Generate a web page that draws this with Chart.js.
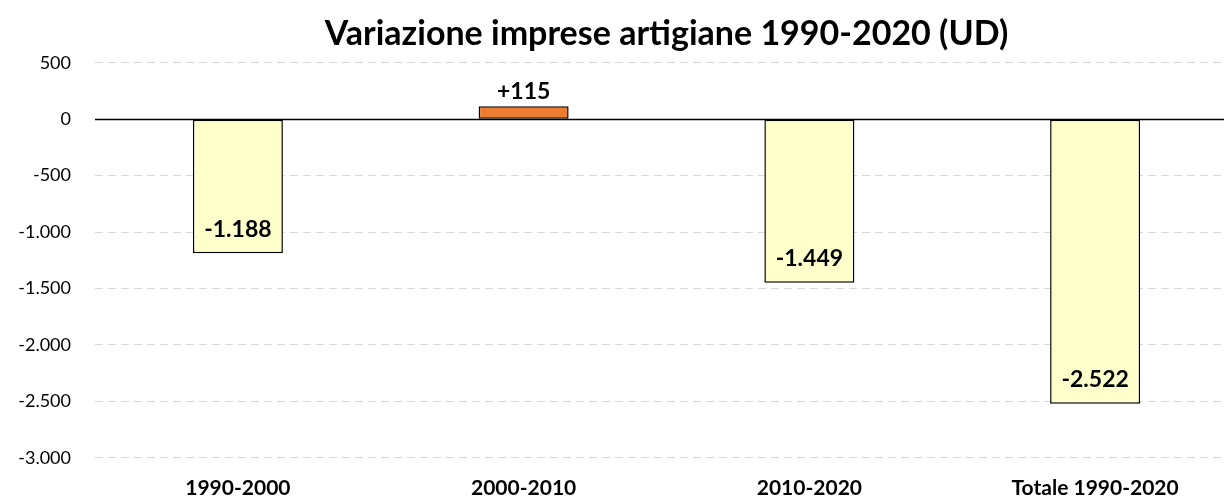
<!DOCTYPE html>
<html>
<head>
<meta charset="utf-8">
<script src="https://cdn.jsdelivr.net/npm/chart.js@4"></script>
<style>
  html, body { margin: 0; padding: 0; background: #fff; overflow: hidden; }
  #wrap { width: 1238px; height: 519px; }
</style>
</head>
<body>
<div id="wrap"><canvas id="barChart"></canvas></div>
<script>
const categories = ['1990-2000', '2000-2010', '2010-2020', 'Totale 1990-2020'];   // x-axis labels
const variazione = [-1188, 115, -1449, -2522];     // change in number of firms
const labelTexts = ['-1.188', '+115', '-1.449', '-2.522'];

// format numbers like the italian sheet: 1.000
function fmt(v) {
    const s = Math.abs(v).toString().replace(/\B(?=(\d{3})+(?!\d))/g, '.');
    return (v < 0 ? '-' : '') + s;
}

// solid zero line drawn under the bars
const zeroLine = {
    id: 'zeroLine',
    beforeDatasetsDraw(chart) {
        const ctx = chart.ctx;
        const y = Math.round(chart.scales.y.getPixelForValue(0)) + 0.5;
        ctx.save();
        ctx.strokeStyle = '#000';
        ctx.lineWidth = 1.5;
        ctx.beginPath();
        ctx.moveTo(chart.chartArea.left, y);
        ctx.lineTo(chart.chartArea.right, y);
        ctx.stroke();
        ctx.restore();
    }
};

// value labels: inside the bottom of negative bars, above positive ones
const valueLabels = {
    id: 'valueLabels',
    afterDatasetsDraw(chart) {
        const ctx = chart.ctx;
        const meta = chart.getDatasetMeta(0);
        ctx.save();
        ctx.font = 'bold 23px Lato';
        ctx.fillStyle = '#000';
        ctx.textAlign = 'center';
        ctx.textBaseline = 'middle';
        meta.data.forEach((bar, i) => {
            const v = variazione[i];
            const y = v < 0 ? bar.y - 24 : bar.y - 15;
            ctx.fillText(labelTexts[i], bar.x, y);
        });
        ctx.restore();
    }
};

const myChart = new Chart(document.getElementById('barChart'), {
    type: 'bar',
    data: {
        labels: categories,
        datasets: [{
            data: variazione,
            backgroundColor: variazione.map(v => v < 0 ? '#FFFFCC' : '#ED7D31'),
            borderColor: '#000',
            borderWidth: 1.5,
            borderSkipped: false,
            barPercentage: 0.315,
            categoryPercentage: 1
        }]
    },
    options: {
        responsive: true,
        maintainAspectRatio: false,
        animation: false,
        layout: { padding: 0 },
        scales: {
            x: {
                grid: { display: false, drawTicks: false },
                border: { display: false },
                ticks: {
                    color: '#000',
                    font: { family: 'Lato', size: 21, weight: 'bold' },
                    padding: 18
                }
            },
            y: {
                min: -3000,
                max: 500,
                afterFit(scale) { scale.width = 95; },
                ticks: {
                    stepSize: 500,
                    color: '#000',
                    font: { family: 'Lato', size: 18 },
                    padding: 24,
                    callback: v => fmt(v)
                },
                grid: {
                    drawTicks: false,
                    color: ctx => ctx.tick && ctx.tick.value === 0 ? 'rgba(0,0,0,0)' : '#d9d9d9',
                    lineWidth: 1
                },
                border: { display: false, dash: [8, 5] }
            }
        },
        plugins: {
            legend: { display: false },
            tooltip: { enabled: false },
            title: {
                display: true,
                fullSize: false,
                text: 'Variazione imprese artigiane 1990-2020 (UD)',
                color: '#000',
                font: { family: 'Lato', size: 34, weight: 'bold' },
                padding: { top: 14, bottom: 8 }
            }
        }
    },
    plugins: [zeroLine, valueLabels]
});
</script>
</body>
</html>
